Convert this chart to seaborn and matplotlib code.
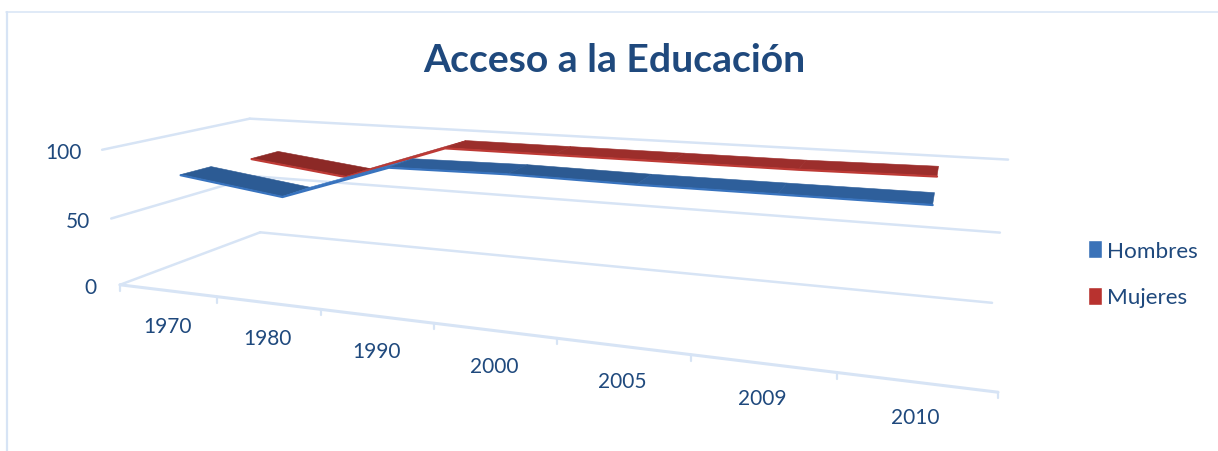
import numpy as np
import pandas as pd
import matplotlib
matplotlib.use("Agg")
import matplotlib.pyplot as plt
from matplotlib.patches import Patch
import seaborn as sns

# Chart data
years = ["1970", "1980", "1990", "2000", "2005", "2009", "2010"]
hombres = [80, 70, 96, 97, 96, 96, 96]
mujeres = [78, 69, 96, 96, 96, 96, 97]
y_ticks = [0, 50, 100]

sns.set_theme(style="white")
plt.rcParams["font.family"] = ["Lato", "DejaVu Sans"]

INK = "#1F497D"
GRID = "#D7E4F5"

fig = plt.figure(figsize=(12.18, 4.52), dpi=100)
ax = fig.add_axes([0, 0, 1, 1])
ax.set_xlim(0, 1218)
ax.set_ylim(452, 0)
ax.axis("off")

# Perspective camera: (category, value, depth) -> canvas position, calibrated on the box corners.
box_refs = [((0, 0, 0), (120, 285)), ((0, 50, 0), (111, 219)), ((0, 100, 0), (102, 151)),
            ((0, 0, 1), (260, 233)), ((0, 100, 1), (250, 120)), ((7, 0, 1), (992, 304)),
            ((7, 50, 1), (1000, 234)), ((7, 100, 1), (1008, 160)), ((7, 0, 0), (998, 393)),
            ((1, 0, 0), (217, 298)), ((2, 0, 0), (321, 311)), ((3, 0, 0), (434, 325)),
            ((6, 0, 0), (837, 373))]
rows, rhs = [], []
for (x, y, z), (u, v) in box_refs:
    rows.append([x, y, z, 1, 0, 0, 0, 0, -u * x, -u * y, -u * z])
    rhs.append(u)
    rows.append([0, 0, 0, 0, x, y, z, 1, -v * x, -v * y, -v * z])
    rhs.append(v)
coef = np.linalg.lstsq(np.array(rows, float), np.array(rhs, float), rcond=None)[0]
CAM = np.append(coef, 1).reshape(3, 4)


def project(x, y, z):
    h = CAM @ np.array([x, y, z, 1.0])
    return h[0] / h[2], h[1] / h[2]


def seg3d(a, b, **kw):
    pts = np.array([project(*a), project(*b)])
    ax.plot(pts[:, 0], pts[:, 1], color=GRID, solid_capstyle="round", **kw)


# Chart frame
ax.plot([7, 7], [452, 13], color=GRID, lw=1.6)
ax.plot([6, 1218], [13, 13], color=GRID, lw=1.1)

# Value gridlines on the side wall and back wall
for val in y_ticks:
    seg3d((0, val, 0), (0, val, 1), lw=1.8, zorder=1)
    seg3d((0, val, 1), (7, val, 1), lw=1.8, zorder=1)

# Category axis with its ticks
seg3d((0, 0, 0), (7, 0, 0), lw=2.2, zorder=1)
for i in range(8):
    u, v = project(i, 0, 0)
    ax.plot([u, u], [v, v + 6], color=GRID, lw=1.6, zorder=1)

for i, lab in enumerate(years):
    u, v = project(i + 0.5, 0, 0)
    ax.text(u, v + 35, lab, ha="center", va="center", fontsize=15, color=INK)

for val, pad in zip(y_ticks, [23, 21, 20]):
    u, v = project(0, val, 0)
    ax.text(u - pad, v + 2, str(val), ha="right", va="center", fontsize=15, color=INK)


# Ribbons: one flat face per segment, plus a lit front edge drawn by seaborn
def ribbon(values, name, z0, z1, faces, edge, order):
    xs = np.arange(len(values)) + 0.5
    for i in range(len(values) - 1):
        quad = [project(xs[i], values[i], z0), project(xs[i + 1], values[i + 1], z0),
                project(xs[i + 1], values[i + 1], z1), project(xs[i], values[i], z1)]
        ax.fill(*zip(*quad), color=faces[i], lw=0.4, zorder=order)
    front = np.array([project(x, val, z0) for x, val in zip(xs, values)])
    frame = pd.DataFrame({"u": front[:, 0], "v": front[:, 1] + 0.6, "serie": name})
    sns.lineplot(data=frame, x="u", y="v", color=edge, lw=1.6, sort=False, estimator=None,
                 legend=False, ax=ax, zorder=order + 0.5)


ribbon(mujeres, "Mujeres", 0.65, 0.86,
       ["#8C2926", "#A83230", "#9B2E2B", "#9C2E2B", "#9C2E2C", "#9C2E2C"], "#BE3A35", 3)
ribbon(hombres, "Hombres", 0.16, 0.36,
       ["#2C5B94", "#3A76C0", "#2E5E99", "#2C5A92", "#2E5F9B", "#2E5F9B"], "#3873BE", 4)

ax.set_xlim(0, 1218)
ax.set_ylim(452, 0)
ax.set_xlabel("")
ax.set_ylabel("")

ax.text(614, 61, "Acceso a la Educación", ha="center", va="center",
        fontsize=28.2, fontweight="bold", color=INK)

handles = [Patch(facecolor="#3A72B8", label="Hombres"), Patch(facecolor="#B8322F", label="Mujeres")]
ax.legend(handles=handles, loc="upper left", bbox_to_anchor=(1088, 241), bbox_transform=ax.transData,
          frameon=False, fontsize=16.2, labelcolor=INK, handlelength=0.62, handleheight=0.85,
          handletextpad=0.22, labelspacing=1.15, borderpad=0, borderaxespad=0)

fig.savefig("out.png", dpi=100)
